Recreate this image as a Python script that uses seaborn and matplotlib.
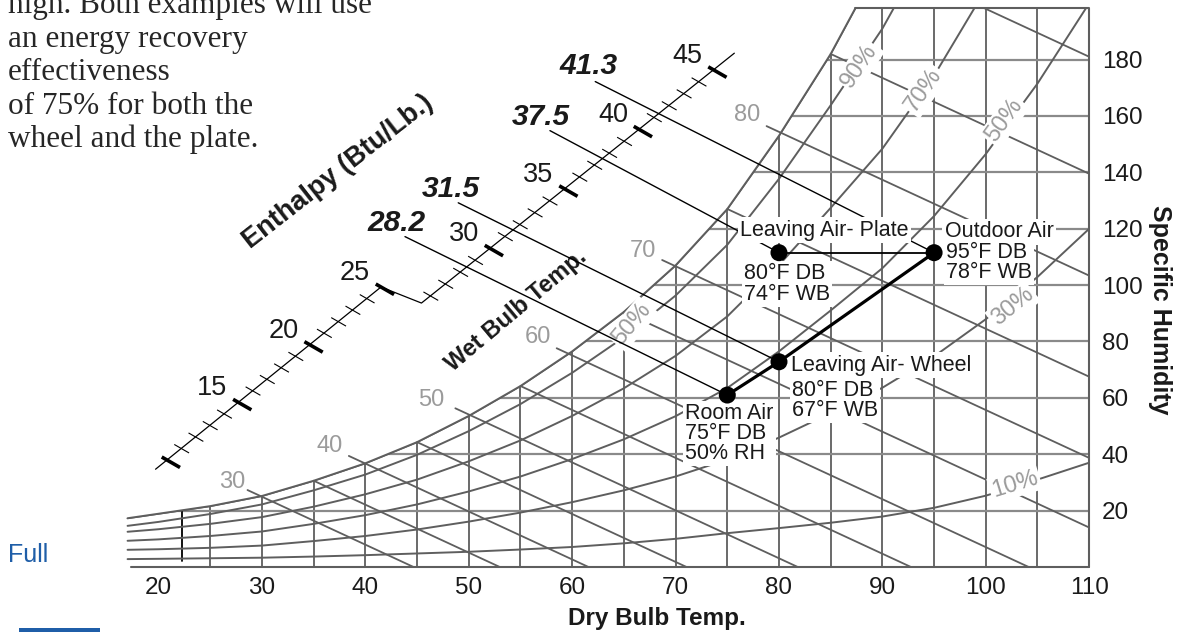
import numpy as np
import pandas as pd
import matplotlib
matplotlib.use("Agg")
import matplotlib.pyplot as plt
import seaborn as sns
from matplotlib.patches import Polygon, Rectangle

# ---- data (dry bulb F, specific humidity grains/lb) ----
db = [17, 20, 25, 30, 35, 40, 45, 50, 55, 60, 65, 70, 75, 80, 85, 90, 95, 100, 105, 110]
rh100 = [17.3, 18.9, 21.6, 25.2, 30.6, 36.8, 44.3, 53.6, 64.2, 76.5, 90.5, 107, 127, 153, 182, 216, 250, 290, 340, 400]
rh90 = [14.6, 16.0, 18.8, 22.2, 27.2, 32.8, 39.8, 48.2, 57.8, 68.9, 81.5, 96.3, 114.3, 137.7, 163.8, 191, 224, 264, 306, 360]
rh70 = [12.5, 13.4, 15.3, 17.7, 21.4, 25.8, 31.0, 37.5, 44.9, 53.6, 63.4, 74.9, 88.9, 107.1, 127.4, 148.4, 174.3, 205, 240, 280]
rh50 = [9.3, 9.8, 11.0, 12.6, 15.3, 18.4, 22.2, 26.8, 32.1, 38.3, 45.3, 53.5, 63.5, 76.5, 91.0, 106, 124.5, 146.5, 171.5, 200]
rh30 = [6.1, 6.3, 6.8, 7.6, 9.2, 11.0, 13.3, 16.1, 19.3, 23.0, 27.2, 32.1, 38.1, 45.9, 54.6, 63.6, 74.7, 87.9, 102.9, 120]
rh10 = [2.8, 2.9, 3.1, 3.3, 3.7, 4.2, 4.8, 5.4, 6.2, 7.1, 8.4, 10.0, 12.0, 13.8, 15.7, 17.9, 21.0, 25.3, 31.0, 37.0]

rh_labels = ["90%", "70%", "50%", "30%", "10%", "50%"]
rh_label_db = [87.8, 94.0, 101.8, 102.6, 102.8, 65.8]
rh_label_w = [177.8, 169.2, 158.4, 92.3, 29.4, 86.2]
rh_label_rot = [56, 55, 54, 39, 17, 50]

# wet bulb lines: start point on / just past saturation
wb = [30, 35, 40, 45, 50, 55, 60, 65, 70, 75, 80, 85, 90]
wb_start_db = [28.6, 35, 38.4, 45, 48.7, 55, 58.5, 65, 68.7, 75, 78.8, 85, 90]
wb_start_w = [27.3, 30.6, 39.4, 44.3, 56.3, 64.2, 77.6, 90.5, 108.9, 127, 156.4, 182, 215]
wb_slope = 1.7  # grains per F along a wet bulb line
wb_labels = ["30", "40", "50", "60", "70", "80"]
wb_label_db = [27.1, 36.5, 46.4, 56.7, 66.8, 76.9]
wb_label_w = [30.0, 43.0, 59.3, 81.6, 112.0, 160.4]

db_grid = list(range(25, 110, 5))
w_grid = [20, 40, 60, 80, 100, 120, 140, 160, 180]
x_ticks = [20, 30, 40, 50, 60, 70, 80, 90, 100, 110]
W_TOP = 198.3

# state points
state_names = ["Room Air", "Leaving Air- Wheel", "Leaving Air- Plate", "Outdoor Air"]
state_db = [75, 80, 80, 95]
state_w = [61.0, 72.8, 111.5, 111.5]
state_text = ["Room Air\n75°F DB\n50% RH", "80°F DB\n67°F WB", "80°F DB\n74°F WB", "95°F DB\n78°F WB"]

# enthalpy readings (Btu/lb) and where their leader lines start
enth_vals = ["28.2", "31.5", "37.5", "41.3"]
enth_label_db = [43.06, 48.26, 56.96, 61.56]
enth_label_w = [122.0, 134.1, 159.5, 177.8]
enth_start_db = [43.83, 48.98, 57.85, 62.23]
enth_start_w = [117.2, 129.2, 154.8, 172.2]

para = ["high. Both examples will use", "an energy recovery", "effectiveness",
        "of 75% for both the", "wheel and the plate."]

LINE = "#5e5e5e"
HGRID = "#8a8a8a"
LABEL = "#9b9b9b"
INK = "#1a1a1a"
KX, KY = 10.34, 2.819  # px per F, px per grain

sns.set_theme(style="white")
plt.rcParams['font.family'] = ['Liberation Sans', 'DejaVu Sans']

fig = plt.figure(figsize=(11.78, 6.32), dpi=100)
ax = fig.add_axes([0.10390, 0.10285, 0.82071, 0.88449])
ax.set_xlim(16.5, 110)
ax.set_ylim(0, W_TOP)
for s in ax.spines.values():
    s.set_visible(False)

# grid
for t in db_grid:
    ax.plot([t, t], [0, W_TOP], color=LINE, lw=1.3, zorder=1)
for w in w_grid:
    ax.plot([10, 110], [w, w], color=HGRID, lw=1.6, zorder=1)
ax.plot([22.3, 22.3], [2, 20.2], color="black", lw=1.3, zorder=1.2)

# relative humidity curves
curves = pd.DataFrame({
    "db": db * 6,
    "w": rh100 + rh90 + rh70 + rh50 + rh30 + rh10,
    "rh": sum([[k] * len(db) for k in ["100", "90", "70", "50", "30", "10"]], []),
})
sns.lineplot(data=curves, x="db", y="w", units="rh", estimator=None, sort=False,
             color=LINE, lw=1.4, legend=False, ax=ax, zorder=1.5)

# blank out everything above saturation
mask = list(zip(db[:16], rh100[:16])) + [(90, 260), (0, 260), (0, rh100[0])]
ax.add_patch(Polygon(mask, closed=True, fc="white", ec="none", zorder=2))
ax.plot(db[:16], rh100[:16], color=LINE, lw=1.4, zorder=2.6)

# chart box
t_top = np.interp(W_TOP, rh100, db)
ax.plot([t_top, 110, 110], [W_TOP, W_TOP, 0], color=LINE, lw=1.5, clip_on=False, zorder=2.6)
ax.plot([17.3, 110], [0, 0], color=LINE, lw=1.5, clip_on=False, zorder=2.6)

# wet bulb lines
for t0, w0 in zip(wb_start_db, wb_start_w):
    ax.plot([t0, t0 + 120], [w0, w0 - wb_slope * 120], color=LINE, lw=1.3, zorder=2.5)
for s, t, w in zip(wb_labels, wb_label_db, wb_label_w):
    ax.text(t, w, s, color=LABEL, fontsize=17, ha="center", va="center", zorder=3)

for s, t, w, r in zip(rh_labels, rh_label_db, rh_label_w, rh_label_rot):
    ax.text(t, w, s, color=LABEL, fontsize=17, ha="center", va="center", rotation=r,
            rotation_mode="anchor", zorder=3,
            bbox=dict(fc="white", ec="none", pad=1.5))

# enthalpy scale
def offs(d, ux=0.87, uy=0.5):
    return d * ux / KX, -d * uy / KY

lo0, lo_step = (20.81, 37.96), (1.380, 4.091)
up0, up_step = (52.05, 113.05), (1.441, 4.221)

def pos(h):
    if h <= 25.2:
        return lo0[0] + (h - 10) * lo_step[0], lo0[1] + (h - 10) * lo_step[1]
    return up0[0] + (h - 30) * up_step[0], up0[1] + (h - 30) * up_step[1]

a, b = pos(9.2), pos(25)
c, d = pos(25.4), pos(46.4)
ax.plot([a[0], b[0], c[0], d[0]], [a[1], b[1], c[1], d[1]], color="black", lw=0.9, zorder=4)
for h in range(10, 46):
    x0, y0 = pos(h)
    major = h % 5 == 0
    d0, d1 = (-6, 15) if major else (-8, 9)
    o0, o1 = offs(d0), offs(d1)
    ax.plot([x0 + o0[0], x0 + o1[0]], [y0 + o0[1], y0 + o1[1]], color="black",
            lw=2.6 if major else 0.8, solid_capstyle="butt", zorder=4)
    if major and h > 10:
        ax.text(x0 - 26 / KX, y0 + 14 / KY, str(h), fontsize=19.5, ha="center", va="center",
                color=INK, zorder=4)

ax.text(37.35, 140.1, "Enthalpy (Btu/Lb.)", fontsize=19.5, fontweight="bold", rotation=38,
        ha="center", va="center", rotation_mode="anchor", color=INK, zorder=4)
ax.text(54.6, 91.0, "Wet Bulb Temp.", fontsize=17, fontweight="bold", rotation=40,
        ha="center", va="center", rotation_mode="anchor", color=INK, zorder=4)

# enthalpy leader lines
end_idx = [0, 1, 2, 3]
for s, lt, lw_, t0, w0, i in zip(enth_vals, enth_label_db, enth_label_w, enth_start_db, enth_start_w, end_idx):
    ax.plot([t0, state_db[i]], [w0, state_w[i]], color="black", lw=1.0, zorder=4)
    ax.text(lt, lw_, s, fontsize=21.5, fontweight="bold", fontstyle="italic", ha="center",
            va="center", color=INK, zorder=4)

# process lines and state points
ax.plot(state_db[:2] + [state_db[3]], state_w[:2] + [state_w[3]], color="black", lw=2.3, zorder=5)
ax.plot(state_db[2:], state_w[2:], color="black", lw=1.3, zorder=5)
sns.scatterplot(x=state_db, y=state_w, color="black", s=150, edgecolor="none", ax=ax, zorder=6)

box = dict(fc="white", ec="none", pad=1.5)
ann = [
    (state_names[2], 2, (-27.9, 16.3)), (state_text[2], 2, (-25.2, -22.5)),
    (state_names[3], 3, (7.6, 15.0)), (state_text[3], 3, (8.6, -7.2)),
    (state_names[1], 1, (8.3, -2.4)), (state_text[1], 1, (9.5, -27.6)),
    (state_text[0], 0, (-30.4, -27.6)),
]
for txt, i, off in ann:
    ax.annotate(txt, xy=(state_db[i], state_w[i]), xytext=off, textcoords="offset points",
                ha="left", va="center", fontsize=15.5, linespacing=0.95, color=INK,
                bbox=box, zorder=4.5)

# axes ticks
ax.yaxis.tick_right()
ax.set_xticks(x_ticks)
ax.set_yticks(w_grid)
ax.tick_params(axis="both", length=0, labelsize=17.5, labelcolor=INK)
ax.tick_params(axis="x", pad=7)
ax.tick_params(axis="y", pad=9)
ax.set_xlabel("")
ax.set_ylabel("")
ax.grid(False)

fig.text(657 / 1178, 1 - 619 / 632, "Dry Bulb Temp.", fontsize=17.5, fontweight="bold",
         ha="center", va="center", color=INK)
fig.text(1160 / 1178, 1 - 310 / 632, "Specific Humidity", fontsize=18, fontweight="bold",
         rotation=-90, ha="center", va="center", color=INK)

for i, line in enumerate(para):
    fig.text(7.7 / 1178, 1 - (13.5 + 33.5 * i) / 632, line, fontsize=22.5,
             family=["Liberation Serif", "DejaVu Serif"], ha="left", va="baseline", color="#262626")

fig.text(7.7 / 1178, 1 - 562 / 632, "Full", fontsize=18, color="#1f5ea8", ha="left", va="baseline")
fig.add_artist(Rectangle((19 / 1178, 0), 81 / 1178, 4 / 632, transform=fig.transFigure,
                         fc="#1f5ea8", ec="none"))

fig.savefig("out.png", dpi=100)
